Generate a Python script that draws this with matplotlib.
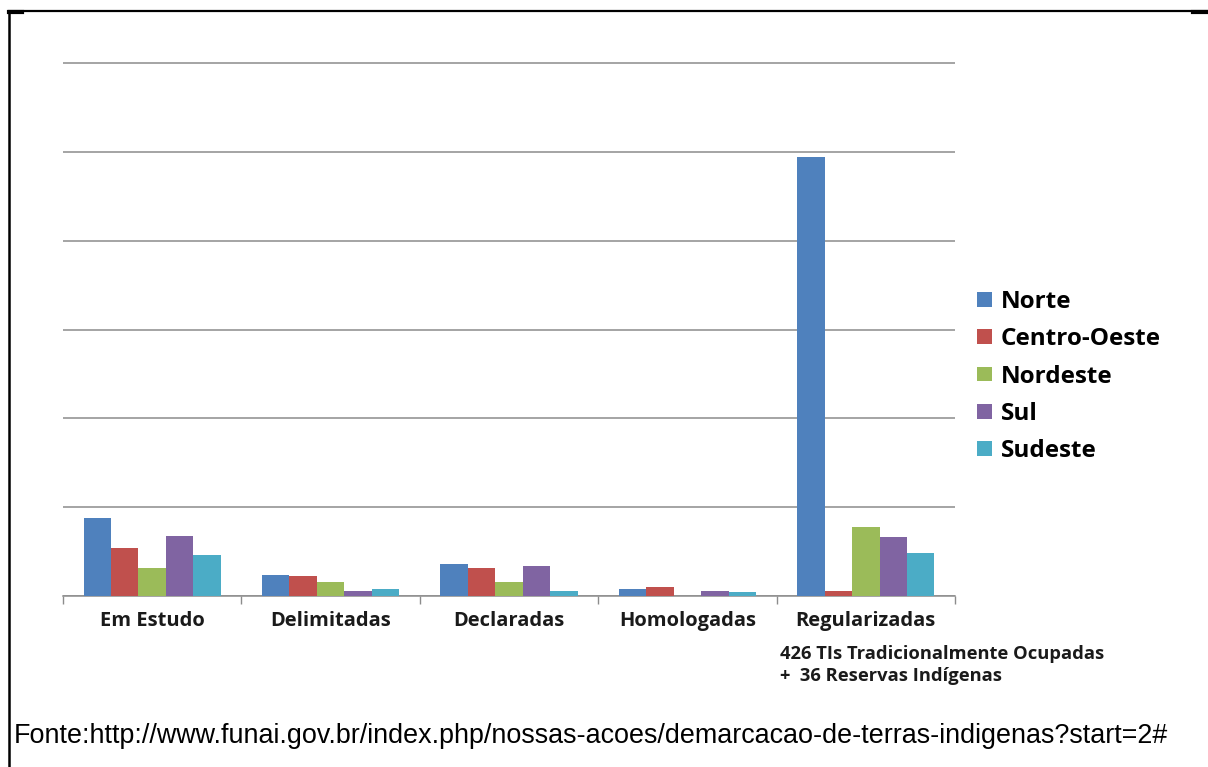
import numpy as np
import matplotlib.pyplot as plt
from matplotlib.lines import Line2D

# Terras indígenas por fase de regularização e por região
fases = ["Em Estudo", "Delimitadas", "Declaradas", "Homologadas", "Regularizadas"]
regioes = ["Norte", "Centro-Oeste", "Nordeste", "Sul", "Sudeste"]
norte = [44, 12, 18, 4, 247]
centro_oeste = [27, 11, 16, 5, 3]
nordeste = [16, 8, 8, 0, 39]
sul = [34, 3, 17, 3, 33]
sudeste = [23, 4, 3, 2, 24]
series = [norte, centro_oeste, nordeste, sul, sudeste]
cores = ["#4F81BD", "#C0504D", "#9BBB59", "#8064A2", "#4BACC6"]

fig = plt.figure(figsize=(12.08, 7.67), dpi=100)
# topo do eixo um pouco acima da última grade para ela não ser cortada
ax = fig.add_axes([63 / 1208, 1 - 596 / 767, (955 - 63) / 1208, (596 - 60) / 767])

x = np.arange(len(fases))
w = 1 / 6.5
for i, (vals, cor, nome) in enumerate(zip(series, cores, regioes)):
    ax.bar(x + (i - 2) * w, vals, width=w, color=cor, label=nome, zorder=3)

ax.set_xlim(-0.5, len(fases) - 0.5)
ax.set_ylim(0, 300 * 536 / 533)
ax.set_yticks(np.arange(0, 301, 50))
ax.yaxis.grid(True, color="#8c8c8c", linewidth=1.1, zorder=0)
ax.tick_params(axis="y", length=0, labelleft=False)
for s in ["top", "right", "left"]:
    ax.spines[s].set_visible(False)
ax.spines["bottom"].set_color("#8c8c8c")
ax.spines["bottom"].set_linewidth(1.1)

# marcas entre os grupos, rótulos centrados
ax.set_xticks(np.arange(-0.5, len(fases)))
ax.set_xticklabels([])
ax.tick_params(axis="x", length=6, color="#8c8c8c", width=1)
for xi, f in zip(x, fases):
    ax.text(xi, -0.046, f, transform=ax.get_xaxis_transform(), ha="center", va="center",
            fontsize=14.5, fontweight="bold", family="Open Sans", color="#1a1a1a")

ax.legend(loc="upper left", bbox_to_anchor=(1.0, 0.612), frameon=False,
          prop={"family": "Open Sans", "weight": "bold", "size": 17.5},
          handlelength=0.62, handleheight=0.55, handletextpad=0.35, labelspacing=0.55)

fig.text(780 / 1208, 1 - 654 / 767, "426 TIs Tradicionalmente Ocupadas", fontsize=13.2,
         fontweight="bold", family="Open Sans", va="center", color="#1a1a1a")
fig.text(780 / 1208, 1 - 676 / 767, "+  36 Reservas Indígenas", fontsize=13.2,
         fontweight="bold", family="Open Sans", va="center", color="#1a1a1a")

fig.text(14 / 1208, 1 - 736 / 767,
         "Fonte:http://www.funai.gov.br/index.php/nossas-acoes/demarcacao-de-terras-indigenas?start=2#",
         fontsize=19.4, family="Liberation Sans", va="center", color="black")

# moldura (linha superior e esquerda)
fig.add_artist(Line2D([8.5 / 1208, 1], [1 - 10.5 / 767] * 2, color="black", linewidth=1.6))
fig.add_artist(Line2D([8.5 / 1208] * 2, [0, 1 - 10.5 / 767], color="black", linewidth=1.8))
fig.add_artist(Line2D([8.5 / 1208, 22 / 1208], [1 - 11.5 / 767] * 2, color="black", linewidth=3))
fig.add_artist(Line2D([1193 / 1208, 1], [1 - 11.5 / 767] * 2, color="black", linewidth=3))

fig.savefig("out.png", dpi=100)
